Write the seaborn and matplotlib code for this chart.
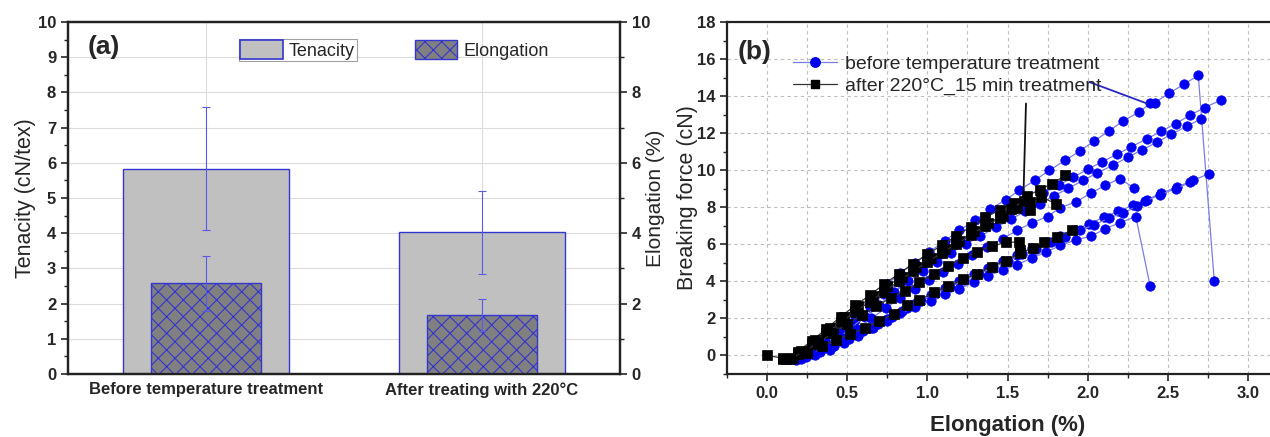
import pandas as pd
import matplotlib
matplotlib.use('Agg')
import matplotlib.pyplot as plt
import seaborn as sns
from matplotlib.lines import Line2D
from matplotlib.patches import Patch
from matplotlib.ticker import MultipleLocator, FormatStrFormatter

# ---- panel (a) data ----
groups = ['Before temperature treatment', 'After treating with 220°C']
tenacity = [5.83, 4.02]
tenacity_err = [1.75, 1.19]
elongation = [2.58, 1.67]
elongation_err = [0.78, 0.46]

# ---- panel (b) data: before treatment specimens ----
bA_x = [0.10, 0.19, 0.28, 0.37, 0.47, 0.56, 0.66, 0.75, 0.83, 0.92, 1.01, 1.11, 1.20, 1.30, 1.39, 1.49,
        1.57, 1.67, 1.76, 1.86, 1.95, 2.04, 2.13, 2.22, 2.32, 2.39, 2.42, 2.51, 2.60, 2.69, 2.79]
bA_y = [-0.2, 0.05, 0.5, 1.05, 1.75, 2.45, 3.15, 3.85, 4.45, 5.0, 5.57, 6.2, 6.76, 7.3, 7.9, 8.4,
        8.91, 9.45, 9.99, 10.53, 11.03, 11.57, 12.1, 12.65, 13.14, 13.6, 13.65, 14.17, 14.63, 15.12, 4.0]
bB_x = [0.20, 0.28, 0.37, 0.46, 0.55, 0.64, 0.73, 0.82, 0.91, 1.00, 1.09, 1.18, 1.27, 1.36, 1.45,
        1.54, 1.63, 1.72, 1.82, 1.91, 2.00, 2.09, 2.18, 2.27, 2.37, 2.46, 2.55, 2.64, 2.73, 2.83]
bB_y = [-0.15, 0.15, 0.65, 1.25, 1.9, 2.6, 3.3, 3.95, 4.55, 5.1, 5.6, 6.08, 6.55, 7.0, 7.45,
        7.88, 8.3, 8.75, 9.2, 9.62, 10.05, 10.45, 10.85, 11.25, 11.7, 12.1, 12.52, 12.97, 13.38, 13.78]
bC_x = [0.17, 0.25, 0.34, 0.43, 0.52, 0.61, 0.70, 0.79, 0.88, 0.97, 1.06, 1.15, 1.24, 1.33, 1.43,
        1.52, 1.61, 1.70, 1.79, 1.88, 1.97, 2.06, 2.16, 2.25, 2.34, 2.43, 2.52, 2.62, 2.71]
bC_y = [-0.2, 0.0, 0.35, 0.85, 1.45, 2.1, 2.75, 3.4, 4.0, 4.55, 5.05, 5.55, 6.0, 6.45, 6.92,
        7.35, 7.78, 8.2, 8.62, 9.02, 9.45, 9.85, 10.28, 10.7, 11.1, 11.5, 11.93, 12.38, 12.78]
bF_x = [0.20, 0.29, 0.38, 0.47, 0.56, 0.65, 0.74, 0.83, 0.92, 1.01, 1.10, 1.19, 1.28, 1.37, 1.47,
        1.56, 1.65, 1.75, 1.83, 1.93, 2.02, 2.11, 2.20, 2.29]
bF_y = [-0.15, 0.1, 0.5, 0.95, 1.45, 2.0, 2.55, 3.1, 3.6, 4.05, 4.5, 4.95, 5.4, 5.85, 6.3,
        6.76, 7.15, 7.5, 7.98, 8.3, 8.77, 9.18, 9.55, 9.03]
bD1_x = [0.21, 0.30, 0.39, 0.48, 0.57, 0.66, 0.75, 0.84, 0.93, 1.02, 1.11, 1.20, 1.29, 1.38, 1.47,
         1.56, 1.65, 1.74, 1.83, 1.92, 2.01, 2.10, 2.19, 2.28, 2.37, 2.46, 2.56, 2.66, 2.76]
bD1_y = [-0.2, 0.0, 0.3, 0.65, 1.05, 1.5, 1.95, 2.4, 2.85, 3.25, 3.65, 4.02, 4.38, 4.72, 5.08,
         5.42, 5.78, 6.1, 6.45, 6.78, 7.12, 7.45, 7.78, 8.1, 8.41, 8.77, 9.1, 9.46, 9.82]
bD2_x = [0.24, 0.33, 0.42, 0.51, 0.60, 0.69, 0.78, 0.87, 0.96, 1.05, 1.14, 1.23, 1.32, 1.41,
         1.50, 1.59, 1.68, 1.77, 1.86, 1.95, 2.04, 2.13, 2.22, 2.31, 2.36, 2.45, 2.55, 2.64]
bD2_y = [-0.1, 0.2, 0.5, 0.9, 1.3, 1.7, 2.1, 2.55, 2.95, 3.3, 3.7, 4.05, 4.4, 4.75,
         5.1, 5.45, 5.75, 6.1, 6.4, 6.75, 7.05, 7.4, 7.7, 8.05, 8.34, 8.66, 9.01, 9.34]
bE_x = [0.18, 0.28, 0.37, 0.46, 0.56, 0.65, 0.745, 0.83, 0.92, 1.02, 1.11, 1.20, 1.29, 1.38,
        1.47, 1.56, 1.65, 1.74, 1.83, 1.93, 2.02, 2.11, 2.20, 2.30, 2.39]
bE_y = [-0.23, 0.09, 0.5, 0.9, 1.2, 1.5, 1.88, 2.27, 2.6, 2.95, 3.3, 3.6, 3.95, 4.3,
        4.6, 4.9, 5.25, 5.58, 5.94, 6.25, 6.43, 6.84, 7.16, 7.5, 3.73]

# ---- panel (b) data: after 220°C treatment specimens ----
aK1_x = [0.00, 0.10, 0.19, 0.28, 0.37, 0.46, 0.55, 0.64, 0.73, 0.82, 0.91, 1.00, 1.09, 1.18, 1.27,
         1.36, 1.45, 1.54, 1.62, 1.70, 1.78, 1.86]
aK1_y = [0.0, -0.15, 0.2, 0.8, 1.45, 2.1, 2.7, 3.25, 3.85, 4.4, 4.95, 5.45, 5.95, 6.45, 6.95,
         7.45, 7.85, 8.25, 8.6, 8.95, 9.28, 9.72]
aK2_x = [0.12, 0.21, 0.30, 0.39, 0.48, 0.57, 0.66, 0.75, 0.84, 0.93, 1.02, 1.11, 1.20, 1.29, 1.38,
         1.47, 1.56, 1.64, 1.71, 1.80]
aK2_y = [-0.2, 0.25, 0.85, 1.5, 2.1, 2.65, 3.2, 3.75, 4.25, 4.75, 5.25, 5.75, 6.2, 6.7, 7.15,
         7.55, 7.95, 8.3, 8.55, 8.2]
aK3_x = [0.16, 0.25, 0.34, 0.43, 0.52, 0.61, 0.70, 0.79, 0.87, 0.95, 1.04, 1.13, 1.22, 1.31, 1.40,
         1.49, 1.58, 1.66, 1.73, 1.81, 1.90]
aK3_y = [-0.15, 0.15, 0.5, 0.85, 1.15, 1.5, 1.85, 2.25, 2.7, 3.0, 3.4, 3.75, 4.1, 4.4, 4.8,
         5.1, 5.55, 5.8, 6.1, 6.4, 6.75]
aK4_x = [0.10, 0.19, 0.28, 0.37, 0.46, 0.55, 0.64, 0.73, 0.82, 0.91, 1.00, 1.09, 1.18, 1.27, 1.36,
         1.45, 1.52, 1.60, 1.64]
aK4_y = [-0.2, 0.1, 0.6, 1.2, 1.8, 2.35, 2.9, 3.45, 4.0, 4.55, 5.05, 5.55, 6.0, 6.5, 7.0,
         7.4, 7.9, 8.35, 7.85]
aK5_x = [0.14, 0.23, 0.32, 0.41, 0.50, 0.59, 0.68, 0.77, 0.86, 0.95, 1.04, 1.13, 1.22, 1.31, 1.40,
         1.49, 1.57, 1.58]
aK5_y = [-0.2, 0.2, 0.7, 1.2, 1.7, 2.2, 2.65, 3.1, 3.5, 3.95, 4.4, 4.85, 5.25, 5.6, 5.9,
         6.1, 6.13, 5.68]

before_specimens = [(bA_x, bA_y), (bB_x, bB_y), (bC_x, bC_y), (bF_x, bF_y),
                    (bD1_x, bD1_y), (bD2_x, bD2_y), (bE_x, bE_y)]
after_specimens = [(aK1_x, aK1_y), (aK2_x, aK2_y), (aK3_x, aK3_y), (aK4_x, aK4_y), (aK5_x, aK5_y)]


def to_long(specimens):
    frames = []
    for i, (xs, ys) in enumerate(specimens):
        frames.append(pd.DataFrame({'x': xs, 'y': ys, 'spec': i}))
    return pd.concat(frames, ignore_index=True)


before_df = to_long(before_specimens)
after_df = to_long(after_specimens)

sns.set_style('white')
plt.rcParams['font.family'] = ['Liberation Sans', 'DejaVu Sans']
plt.rcParams['hatch.linewidth'] = 0.8

BLUE = '#3535d0'
TICK_FS = 12
fig = plt.figure(figsize=(12.7, 4.37), dpi=100)

# ================= panel (a) =================
ax1 = fig.add_axes([0.0535, 0.1442, 0.4347, 0.8055])
sns.barplot(x=groups, y=tenacity, ax=ax1, width=0.6, color='#c0c0c0', saturation=1,
            edgecolor=BLUE, linewidth=1.0, zorder=2)
ax1.errorbar([0, 1], tenacity, yerr=tenacity_err, fmt='none', ecolor='#5a5ae6',
             elinewidth=0.8, capsize=3, capthick=0.8, zorder=3)
ax1.set_ylim(0, 10)
ax1.set_xlim(-0.5, 1.5)
ax1.yaxis.set_major_locator(MultipleLocator(1))
ax1.yaxis.set_minor_locator(MultipleLocator(0.5))
ax1.grid(True, axis='both', which='major', color='#dcdcdc', lw=0.8)
ax1.set_axisbelow(True)
ax1.set_ylabel('Tenacity (cN/tex)', fontsize=15.5, labelpad=1)
ax1.set_xlabel('')

ax2 = ax1.twinx()
sns.barplot(x=groups, y=elongation, ax=ax2, width=0.4, color='#808080', saturation=1,
            edgecolor=BLUE, linewidth=1.0, hatch='xx')
ax2.errorbar([0, 1], elongation, yerr=elongation_err, fmt='none', ecolor='#5a5ae6',
             elinewidth=0.8, capsize=3, capthick=0.8, zorder=3)
ax2.set_ylim(0, 10)
ax2.set_xlim(-0.5, 1.5)
ax2.yaxis.set_major_locator(MultipleLocator(2))
ax2.yaxis.set_minor_locator(MultipleLocator(1))
ax2.set_ylabel('Elongation (%)', fontsize=15, labelpad=-3)
ax2.set_xlabel('')

for ax in (ax1, ax2):
    for s in ax.spines.values():
        s.set_linewidth(1.6)
        s.set_color('#222222')
    ax.tick_params(axis='x', length=0, labelsize=TICK_FS, pad=6)
    ax.tick_params(axis='y', which='major', direction='out', length=5, width=1.2, labelsize=TICK_FS)
    ax.tick_params(axis='y', which='minor', direction='out', length=3, width=1.0)
    for lab in ax.get_xticklabels() + ax.get_yticklabels():
        lab.set_fontweight('bold')
ax2.tick_params(axis='y', which='both', left=False, right=True)

ax1.text(0.035, 0.93, '(a)', transform=ax1.transAxes, fontsize=19, fontweight='bold',
         va='center', ha='left')

leg1 = ax2.legend(handles=[Patch(facecolor='#c0c0c0', edgecolor=BLUE, lw=1.2, label='Tenacity')],
                  loc='upper left', bbox_to_anchor=(0.309, 0.953), fontsize=13, frameon=True,
                  fancybox=False, edgecolor='#888888', borderpad=0.1, borderaxespad=0,
                  handlelength=2.35, handleheight=1.2, handletextpad=0.35)
leg1.get_frame().set_linewidth(0.8)
ax2.add_artist(leg1)
ax2.legend(handles=[Patch(facecolor='#808080', edgecolor=BLUE, lw=1.0, hatch='xx', label='Elongation')],
           loc='upper left', bbox_to_anchor=(0.625, 0.953), fontsize=13, frameon=False,
           borderpad=0.1, borderaxespad=0, handlelength=2.35, handleheight=1.2, handletextpad=0.35)

# ================= panel (b) =================
ax3 = fig.add_axes([0.5725, 0.1442, 0.4417, 0.8055])
sns.lineplot(data=before_df, x='x', y='y', units='spec', estimator=None, sort=False, ax=ax3,
             color='#7c7ce6', lw=0.9, marker='o', markersize=6.8, markerfacecolor='#0000f0',
             markeredgecolor='#0000f0', markeredgewidth=0.5, legend=False, zorder=3)
sns.lineplot(data=after_df, x='x', y='y', units='spec', estimator=None, sort=False, ax=ax3,
             color='#333333', lw=0.9, marker='s', markersize=6.5, markerfacecolor='black',
             markeredgecolor='black', markeredgewidth=0.5, legend=False, zorder=4)

ax3.set_xlim(-0.25, 3.25)
ax3.set_ylim(-1, 18)
ax3.xaxis.set_major_locator(MultipleLocator(0.5))
ax3.xaxis.set_minor_locator(MultipleLocator(0.25))
ax3.yaxis.set_major_locator(MultipleLocator(2))
ax3.yaxis.set_minor_locator(MultipleLocator(1))
ax3.xaxis.set_major_formatter(FormatStrFormatter('%.1f'))
ax3.grid(True, axis='x', which='both', color='#bdbdbd', lw=0.8, ls=(0, (3, 3)))
ax3.grid(True, axis='y', which='major', color='#bdbdbd', lw=0.8, ls=(0, (3, 3)))
ax3.set_axisbelow(True)
for s in ax3.spines.values():
    s.set_linewidth(1.6)
    s.set_color('#222222')
ax3.tick_params(axis='both', which='major', direction='out', length=5, width=1.2, labelsize=TICK_FS)
ax3.tick_params(axis='both', which='minor', direction='out', length=3, width=1.0)
ax3.tick_params(axis='both', which='both', bottom=True, left=True)
for lab in ax3.get_xticklabels() + ax3.get_yticklabels():
    lab.set_fontweight('bold')
ax3.set_xlabel('Elongation (%)', fontsize=16, fontweight='bold', labelpad=10)
ax3.set_ylabel('Breaking force (cN)', fontsize=15.5, labelpad=-1)

ax3.text(0.018, 0.915, '(b)', transform=ax3.transAxes, fontsize=19, fontweight='bold',
         va='center', ha='left')

ax3.annotate('', xy=(2.37, 13.6), xytext=(2.01, 14.76),
             arrowprops=dict(arrowstyle='-', color='#2828c0', lw=1.3, shrinkA=0, shrinkB=0))
ax3.annotate('', xy=(1.60, 8.9), xytext=(1.615, 13.6),
             arrowprops=dict(arrowstyle='-', color='#111111', lw=1.3, shrinkA=0, shrinkB=0))

handles_b = [
    Line2D([], [], color='#7c7ce6', lw=0.9, marker='o', markersize=6.8,
           markerfacecolor='#0000f0', markeredgecolor='#0000f0', label='before temperature treatment'),
    Line2D([], [], color='#333333', lw=0.9, marker='s', markersize=6.0,
           markerfacecolor='black', markeredgecolor='black', label='after 220°C_15 min treatment'),
]
ax3.legend(handles=handles_b, loc='upper left', bbox_to_anchor=(0.117, 0.905), fontsize=14,
           frameon=False, borderpad=0, borderaxespad=0, handlelength=2.3, handletextpad=0.4,
           labelspacing=0.2)

fig.savefig('out.png', dpi=100)
